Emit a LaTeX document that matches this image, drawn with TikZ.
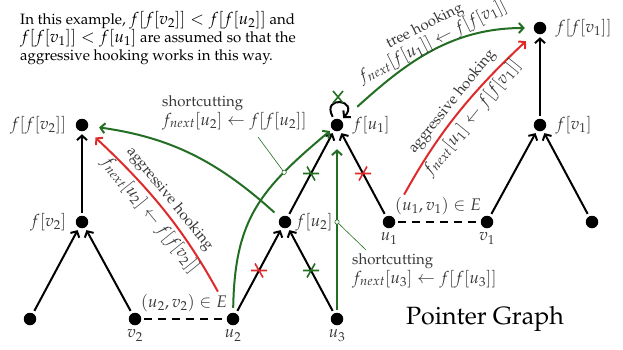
\documentclass[tikz,border=0pt]{standalone}
\usepackage[T1]{fontenc}
\usepackage{mathpazo}
\DeclareMathSizes{15}{16.8}{13}{10}
\usetikzlibrary{arrows.meta,calc}
\definecolor{dgreen}{RGB}{34,110,34}
\definecolor{dred}{RGB}{222,42,42}
\definecolor{labc}{gray}{0.22}
\begin{document}
\begin{tikzpicture}[x=1pt,y=-1pt,
  every node/.style={font=\fontsize{15}{18}\selectfont},
  dot/.style={circle,fill=black,inner sep=0pt,minimum size=12.5pt,outer sep=3pt},
  lbl/.style={text=labc,font=\fontsize{15}{18}\selectfont},
  elbl/.style={text=labc,font=\fontsize{15}{17}\selectfont},
  blk/.style={line width=2pt,-{Straight Barb[length=4.5pt,width=10pt]}},
  grn/.style={line width=2pt,dgreen,-{Straight Barb[length=4.5pt,width=10pt]}},
  rd/.style={line width=2pt,dred,-{Straight Barb[length=4.5pt,width=10pt]}},
  pinln/.style={dgreen,line width=0.6pt},
  xmk/.pic={\draw[line width=1.6pt,pic actions] (-8,0) -- (8,0) (-4,-7) -- (4,7);},
  xx/.pic={\draw[line width=1.6pt,pic actions] (-5,-6) -- (5,6) (-5,6) -- (5,-6);}
]
\useasboundingbox (0,0) rectangle (623,349);

% caption
\node[anchor=north west,align=left,inner sep=0pt] (cap) at (20,11)
 {In this example, $f[f[v_2]] < f[f[u_2]]$ and\\
  $f[f[v_1]] < f[u_1]$ are assumed so that the\\
  aggressive hooking works in this way.};

% nodes
\node[dot,label={[lbl,label distance=3pt]left:$f[f[v_2]]$}] (ffv2) at (82,125) {};
\node[dot,label={[lbl,label distance=3pt]left:$f[v_2]$}] (fv2) at (82,222) {};
\node[dot] (l1) at (30,319) {};
\node[dot,label={[lbl,label distance=-2pt]below:$v_2$}] (v2) at (135,319) {};
\node[dot,label={[lbl,label distance=-2pt]below:$u_2$}] (u2) at (233,319) {};
\node[dot,label={[lbl,label distance=-2pt]right:$f[u_2]$}] (fu2) at (285,222) {};
\node[dot,label={[lbl,label distance=-2pt]below:$u_3$}] (u3) at (337,319) {};
\node[dot,label={[lbl,label distance=3pt]right:$f[u_1]$}] (fu1) at (337,125) {};
\node[dot,label={[lbl,label distance=-2pt]below:$u_1$}] (u1) at (389,222) {};
\node[dot,label={[lbl,label distance=-2pt]below:$v_1$}] (v1) at (487,222) {};
\node[dot,label={[lbl,label distance=3pt]right:$f[v_1]$}] (fv1) at (540,125) {};
\node[dot,label={[lbl,label distance=3pt]right:$f[f[v_1]]$}] (ffv1) at (540,28) {};
\node[dot] (l2) at (592,222) {};

% black tree edges
\draw[blk] (fv2) -- (ffv2);
\draw[blk] (l1) -- (fv2);
\draw[blk] (v2) -- (fv2);
\draw[blk] (u2) -- (fu2);
\draw[blk] (u3) -- (fu2);
\draw[blk] (fu2) -- (fu1);
\draw[blk] (u1) -- (fu1);
\draw[blk] (fu1) to[out=118,in=48,distance=25pt] (fu1);
\draw[blk] (fv1) -- (ffv1);
\draw[blk] (v1) -- (fv1);
\draw[blk] (l2) -- (fv1);

% dashed edges
\draw[line width=2pt,dash pattern=on 8pt off 6pt] (v2) -- node[elbl,above=3pt,pos=0.5]{$(u_2,v_2)\in E$} (u2);
\draw[line width=2pt,dash pattern=on 8pt off 6pt] (u1) -- node[elbl,above=3pt,pos=0.5]{$(u_1,v_1)\in E$} (v1);

% crosses
\pic[dred] at ($(u2)!0.5!(fu2)$) {xmk};
\pic[dgreen,xscale=-1] at ($(u3)!0.5!(fu2)$) {xmk};
\pic[dgreen] at ($(fu2)!0.5!(fu1)$) {xmk};
\pic[dred,xscale=-1] at ($(u1)!0.5!(fu1)$) {xmk};
\pic[dgreen] at (338,97) {xx};

% green arrows
\draw[grn,shorten <=2pt] (u2) to[out=89,in=-140,looseness=1.15] coordinate[pos=0.74] (p1) (fu1);
\draw[grn,shorten <=5pt,shorten >=8pt] (fu2) to[out=138,in=-8] (ffv2);
\draw[grn,shorten >=15pt] (u3) -- coordinate[pos=0.5] (p2) (fu1);
\draw[grn,shorten <=18pt,shorten >=6pt] (fu1) to[out=42,in=180]
  node[elbl,sloped,above=-1.5pt,pos=0.54,align=center,inner sep=0pt]{tree hooking\\$f_{next}[f[u_1]] \leftarrow f[f[v_1]]$} (ffv1);

% red arrows
\draw[rd,shorten <=22pt,shorten >=9pt] (u2) to[bend right=9]
  node[elbl,sloped,above,pos=0.55]{aggressive hooking}
  node[elbl,sloped,below,pos=0.55]{$f_{next}[u_2] \leftarrow f[f[v_2]]$} (ffv2);
\draw[rd,shorten <=22pt,shorten >=10pt] (u1) to[bend left=9]
  node[elbl,sloped,above,pos=0.55]{aggressive hooking}
  node[elbl,sloped,below,pos=0.55]{$f_{next}[u_1] \leftarrow f[f[v_1]]$} (ffv1);

% shortcutting labels
\node[elbl,align=left,anchor=north west,inner sep=1pt,font=\fontsize{15}{19}\selectfont] (s1) at (161,94) {shortcutting\\$f_{next}[u_2] \leftarrow f[f[u_2]]$};
\draw[pinln] (258,137) -- (p1);
\draw[pinln,fill=white] (p1) circle (2.2pt);
\node[elbl,align=left,anchor=north west,inner sep=1pt,font=\fontsize{15}{19}\selectfont] (s2) at (351,252) {shortcutting\\$f_{next}[u_3] \leftarrow f[f[u_3]]$};
\draw[pinln] (p2) -- (366,250);
\draw[pinln,fill=white] (p2) circle (2.2pt);

\node[font=\fontsize{25}{30}\selectfont] (title) at (485,319) {Pointer Graph};
\end{tikzpicture}
\end{document}
